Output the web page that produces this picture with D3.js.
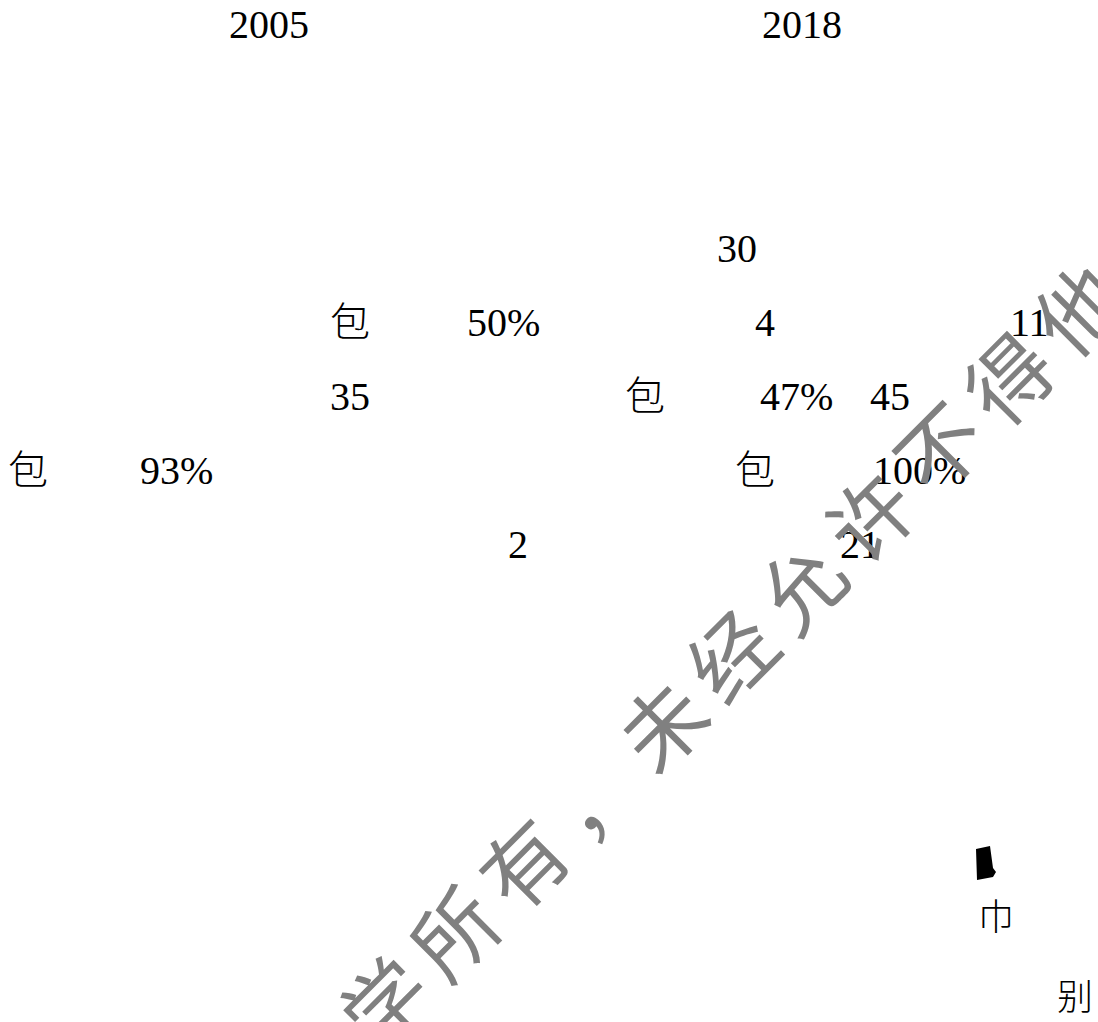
<!DOCTYPE html>
<html>
<head>
<meta charset="utf-8">
<script src="https://cdn.jsdelivr.net/npm/d3@7"></script>
<style>
  body { margin: 0; background: #fff; }
</style>
</head>
<body>
<div id="chart"></div>
<script>
// years heading the two columns
var years = ["2005", "2018"];

// cell texts, read row by row
var cellTexts = ["30",
                 "包", "50%", "4", "11",
                 "35", "包", "47%", "45",
                 "包", "93%", "包", "100%",
                 "2", "21"];

// stray glyphs near the bottom right
var footTexts = ["巾", "别"];

// watermark characters
var watermark = ["学", "所", "有", "，", "未", "经", "允", "许", "不", "得", "他", "用"];

// layout only (positions are kept apart from the values above)
var yearX = [269, 802];
var cellX = [717, 330, 467, 755, 1010, 330, 625, 760, 870, 8, 140, 735, 873, 508, 840];
var cellRow = [0, 1, 1, 1, 1, 2, 2, 2, 2, 3, 3, 3, 3, 4, 4];
var footX = [978, 1057];
var footY = [930, 1010];

function init(){
    var w = 1098;
    var h = 1022;

    var svg = d3.select("#chart")
                .append("svg")
                .attr("width", w)
                .attr("height", h);

    svg.append("rect")
        .attr("width", w)
        .attr("height", h)
        .attr("fill", "#fff");

    // rows of the table
    var yRow = d3.scaleLinear()
                 .domain([0, 4])
                 .range([262, 558]);

    var serif = "'Liberation Serif', 'Times New Roman', 'Noto Sans CJK SC', serif";

    // year headings
    svg.selectAll("text.year")
        .data(years)
        .enter()
        .append("text")
        .attr("class", "year")
        .text(function(d) { return d; })
        .attr("x", function(d, i) { return yearX[i]; })
        .attr("y", 38)
        .attr("text-anchor", "middle")
        .attr("font-family", serif)
        .attr("font-size", "40px")
        .attr("fill", "#000");

    // table cells
    svg.selectAll("text.cell")
        .data(cellTexts)
        .enter()
        .append("text")
        .attr("class", "cell")
        .text(function(d) { return d; })
        .attr("x", function(d, i) { return cellX[i]; })
        .attr("y", function(d, i) { return yRow(cellRow[i]); })
        .attr("font-family", serif)
        .attr("font-weight", function(d) { return d === "包" ? 300 : 400; })
        .attr("font-size", "40px")
        .attr("fill", "#000");

    // black blot above the stray glyph
    var blot = d3.path();
    blot.moveTo(0, 3);
    blot.lineTo(14, 0);
    blot.lineTo(17, 22);
    blot.lineTo(20, 26);
    blot.lineTo(17, 31);
    blot.lineTo(1, 34);
    blot.closePath();
    svg.append("path")
        .attr("d", blot.toString())
        .attr("transform", "translate(976,846)")
        .attr("fill", "#000");

    svg.selectAll("text.foot")
        .data(footTexts)
        .enter()
        .append("text")
        .attr("class", "foot")
        .text(function(d) { return d; })
        .attr("x", function(d, i) { return footX[i]; })
        .attr("y", function(d, i) { return footY[i]; })
        .attr("font-family", "'Noto Sans CJK SC', sans-serif")
        .attr("font-weight", 300)
        .attr("font-size", "36px")
        .attr("fill", "#000");

    // diagonal watermark, one glyph per step along the line
    var angle = -45;
    var step = 98;
    var ox = 521, oy = 861; // centre of the third glyph
    var rad = angle * Math.PI / 180;
    var along = d3.scaleLinear()
                  .domain([2, 3])
                  .range([0, step]);

    svg.selectAll("text.wm")
        .data(watermark)
        .enter()
        .append("text")
        .attr("class", "wm")
        .text(function(d) { return d; })
        .attr("transform", function(d, i) {
            var s = along(i);
            var cx = ox + s * Math.cos(rad);
            var cy = oy + s * Math.sin(rad);
            return "translate(" + cx + "," + cy + ") rotate(" + angle + ")";
        })
        .attr("text-anchor", "middle")
        .attr("dominant-baseline", "central")
        .attr("font-family", "'Noto Sans CJK SC', sans-serif")
        .attr("font-size", "84px")
        .attr("fill", "#808080");
}
window.onload = init;
</script>
</body>
</html>
